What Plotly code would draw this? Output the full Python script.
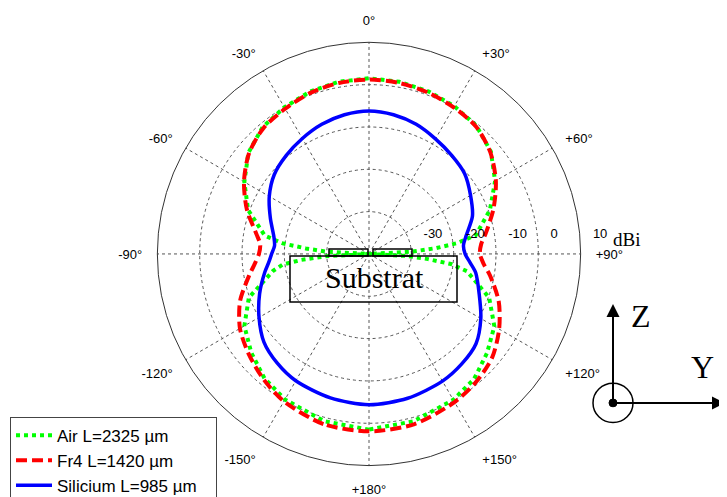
import plotly.graph_objects as go

W, H = 727, 497

# ---------------- data (dBi vs angle in degrees) ----------------
series_names = ["Air L=2325 µm", "Fr4 L=1420 µm", "Silicium L=985 µm"]

air_theta = [-180, -165, -150, -140, -130, -120, -110, -100, -97, -95, -93, -90,
             -87, -85, -83, -80, -70, -60, -50, -40, -30, -20, -10, 0,
             10, 20, 30, 40, 50, 60, 70, 80, 83, 85, 87, 90,
             93, 95, 97, 100, 110, 120, 130, 140, 150, 165, 180]
air_db = [1.5, 0.9, -0.3, -1.6, -3.7, -6.0, -9.8, -17.0, -19.5, -24.0, -30.0, -40.0,
          -30.0, -25.0, -19.5, -15.0, -9.6, -6.0, -2.8, -0.9, 0.0, 0.8, 1.3, 1.5,
          1.3, 0.9, 0.3, -0.5, -2.4, -5.6, -9.6, -14.4, -19.0, -24.0, -30.0, -40.0,
          -31.0, -26.0, -20.5, -16.5, -9.8, -5.8, -3.6, -1.4, -0.2, 0.9, 1.5]

fr4_theta = [-180, -165, -150, -140, -130, -120, -110, -100, -95, -90, -85, -80,
             -70, -60, -50, -40, -30, -20, -10, 0, 10, 20, 30, 40, 50, 60,
             70, 80, 85, 90, 95, 100, 110, 120, 130, 140, 150, 165, 180]
fr4_db = [1.9, 1.6, 0.2, -1.3, -3.0, -4.8, -7.6, -11.3, -12.9, -14.0, -14.2, -13.0,
          -9.3, -5.9, -3.0, -1.2, -0.4, 0.5, 1.0, 1.2, 1.0, 0.6, 0.0, -0.7, -2.6, -5.4,
          -8.7, -12.0, -13.4, -13.8, -12.8, -11.0, -7.4, -4.5, -2.0, -0.6, 0.4, 1.6, 1.9]

si_theta = [-180, -165, -150, -140, -130, -120, -110, -100, -95, -90, -85, -80,
            -70, -60, -50, -40, -30, -20, -10, 0, 10, 20, 30, 40, 50, 60,
            70, 80, 85, 90, 95, 100, 110, 120, 130, 140, 150, 165, 180]
si_db = [-4.4, -4.8, -5.4, -6.3, -7.6, -10.0, -12.5, -15.0, -16.2, -17.0, -17.6, -17.2,
         -15.2, -12.8, -10.8, -9.6, -8.5, -7.4, -6.6, -6.2, -6.6, -7.4, -8.6, -9.6, -10.5, -12.3,
         -14.0, -16.8, -17.6, -17.3, -16.0, -14.4, -12.3, -9.5, -7.0, -6.0, -5.3, -4.7, -4.4]

radial_range = [-40, 10]
radial_ticks = [-30, -20, -10, 0, 10]
radial_ticktext = ["-30", "-20", "-10", "0", "10"]
radial_label_theta = 90  # radial labels drawn along the +90° direction
angle_ticks = [0, 30, 60, 90, 120, 150, 180, 210, 240, 270, 300, 330]
angle_ticktext = ["0°", "+30°", "+60°", "+90°", "+120°", "+150°", "+180°",
                  "-150°", "-120°", "-90°", "-60°", "-30°"]

# ---------------- helpers ----------------
OFFX = 8  # page offset of the plot div


def px(x):
    return (x - OFFX) / W


def py(y):
    return 1 - y / H


PAD = "\u00a0" * 3  # widens the legend box a little, like the reference

fig = go.Figure()

fig.add_trace(go.Scatterpolar(
    r=air_db, theta=air_theta, mode="lines", name=series_names[0] + PAD,
    line=dict(color="#00ff00", width=4, dash="4px,4px")))
fig.add_trace(go.Scatterpolar(
    r=fr4_db, theta=fr4_theta, mode="lines", name=series_names[1] + PAD,
    line=dict(color="#ff0000", width=4, dash="11px,5px", shape="spline", smoothing=0.8)))
fig.add_trace(go.Scatterpolar(
    r=si_db, theta=si_theta, mode="lines", name=series_names[2] + PAD,
    line=dict(color="#0000ff", width=3.5, shape="spline", smoothing=0.8)))
# radial tick labels, placed through the radial scale (invisible markers give the offset)
fig.add_trace(go.Scatterpolar(
    r=radial_ticks, theta=[radial_label_theta] * len(radial_ticks),
    mode="markers+text", text=radial_ticktext, textposition="top right",
    marker=dict(size=18, opacity=0),
    textfont=dict(size=13, color="black"), showlegend=False, hoverinfo="skip"))

cx, cy, R = 369, 251, 216

fig.update_layout(
    width=W, height=H, autosize=False,
    margin=dict(l=0, r=0, t=0, b=0),
    paper_bgcolor="white", plot_bgcolor="white",
    font=dict(family="Arial, Liberation Sans, sans-serif", color="black", size=13),
    polar=dict(
        domain=dict(x=[px(cx - R), px(cx + R)], y=[py(cy + R), py(cy - R)]),
        bgcolor="white",
        radialaxis=dict(
            range=radial_range, tickmode="array", tickvals=radial_ticks,
            showticklabels=False, angle=0, showline=False, ticks="",
            gridcolor="#555", griddash="3px,3px", gridwidth=1),
        angularaxis=dict(
            rotation=90, direction="clockwise", tickmode="array",
            tickvals=angle_ticks, ticktext=angle_ticktext,
            showline=True, linecolor="#333", linewidth=1,
            gridcolor="#555", griddash="3px,3px", gridwidth=1,
            ticks="outside", ticklen=12, tickcolor="rgba(0,0,0,0)",
            tickfont=dict(size=13, color="black")),
    ),
    showlegend=True,
    legend=dict(x=px(10), y=py(417), xanchor="left", yanchor="top",
                bordercolor="#444", borderwidth=1, bgcolor="white",
                font=dict(size=17, color="black"), tracegroupgap=0,
                itemwidth=36),
)

shapes = []
# substrate outline
shapes.append(dict(type="rect", xref="paper", yref="paper",
                   x0=px(290), x1=px(457), y0=py(300), y1=py(253),
                   line=dict(color="black", width=1.5)))
shapes.append(dict(type="rect", xref="paper", yref="paper",
                   x0=px(329), x1=px(368), y0=py(253), y1=py(246),
                   line=dict(color="black", width=1.5)))
shapes.append(dict(type="rect", xref="paper", yref="paper",
                   x0=px(373), x1=px(412), y0=py(253), y1=py(246),
                   line=dict(color="black", width=1.5)))
# axis symbol (circle with dot)
shapes.append(dict(type="circle", xref="paper", yref="paper",
                   x0=px(593), x1=px(633), y0=py(423), y1=py(383),
                   line=dict(color="black", width=1.5)))
shapes.append(dict(type="circle", xref="paper", yref="paper",
                   x0=px(609), x1=px(617), y0=py(407), y1=py(399),
                   line=dict(color="black", width=1), fillcolor="black"))
fig.update_layout(shapes=shapes)

serif = "Times New Roman, Liberation Serif, serif"
ann = [
    dict(x=px(374), y=py(275), xref="paper", yref="paper", text="Substrat",
         xanchor="center", yanchor="middle",
         showarrow=False, font=dict(family=serif, size=30, color="black")),
    dict(x=px(611), y=py(236), xref="paper", yref="paper", text="dBi",
         xanchor="left", yanchor="middle",
         showarrow=False, font=dict(family=serif, size=19, color="black")),
    dict(x=px(641), y=py(314), xref="paper", yref="paper", text="Z",
         xanchor="center", yanchor="middle",
         showarrow=False, font=dict(family=serif, size=32, color="black")),
    dict(x=px(702), y=py(366), xref="paper", yref="paper", text="Y",
         xanchor="center", yanchor="middle",
         showarrow=False, font=dict(family=serif, size=32, color="black")),
    # Z arrow
    dict(x=px(613), y=py(302), xref="paper", yref="paper", text="",
         showarrow=True, ax=0, ay=101, arrowhead=2, arrowsize=1.3, arrowwidth=2,
         arrowcolor="black"),
    # Y arrow
    dict(x=px(725), y=py(403), xref="paper", yref="paper", text="",
         showarrow=True, ax=-112, ay=0, arrowhead=2, arrowsize=1.3, arrowwidth=2,
         arrowcolor="black"),
]
fig.update_layout(annotations=ann)

fig.write_html("out.html")
